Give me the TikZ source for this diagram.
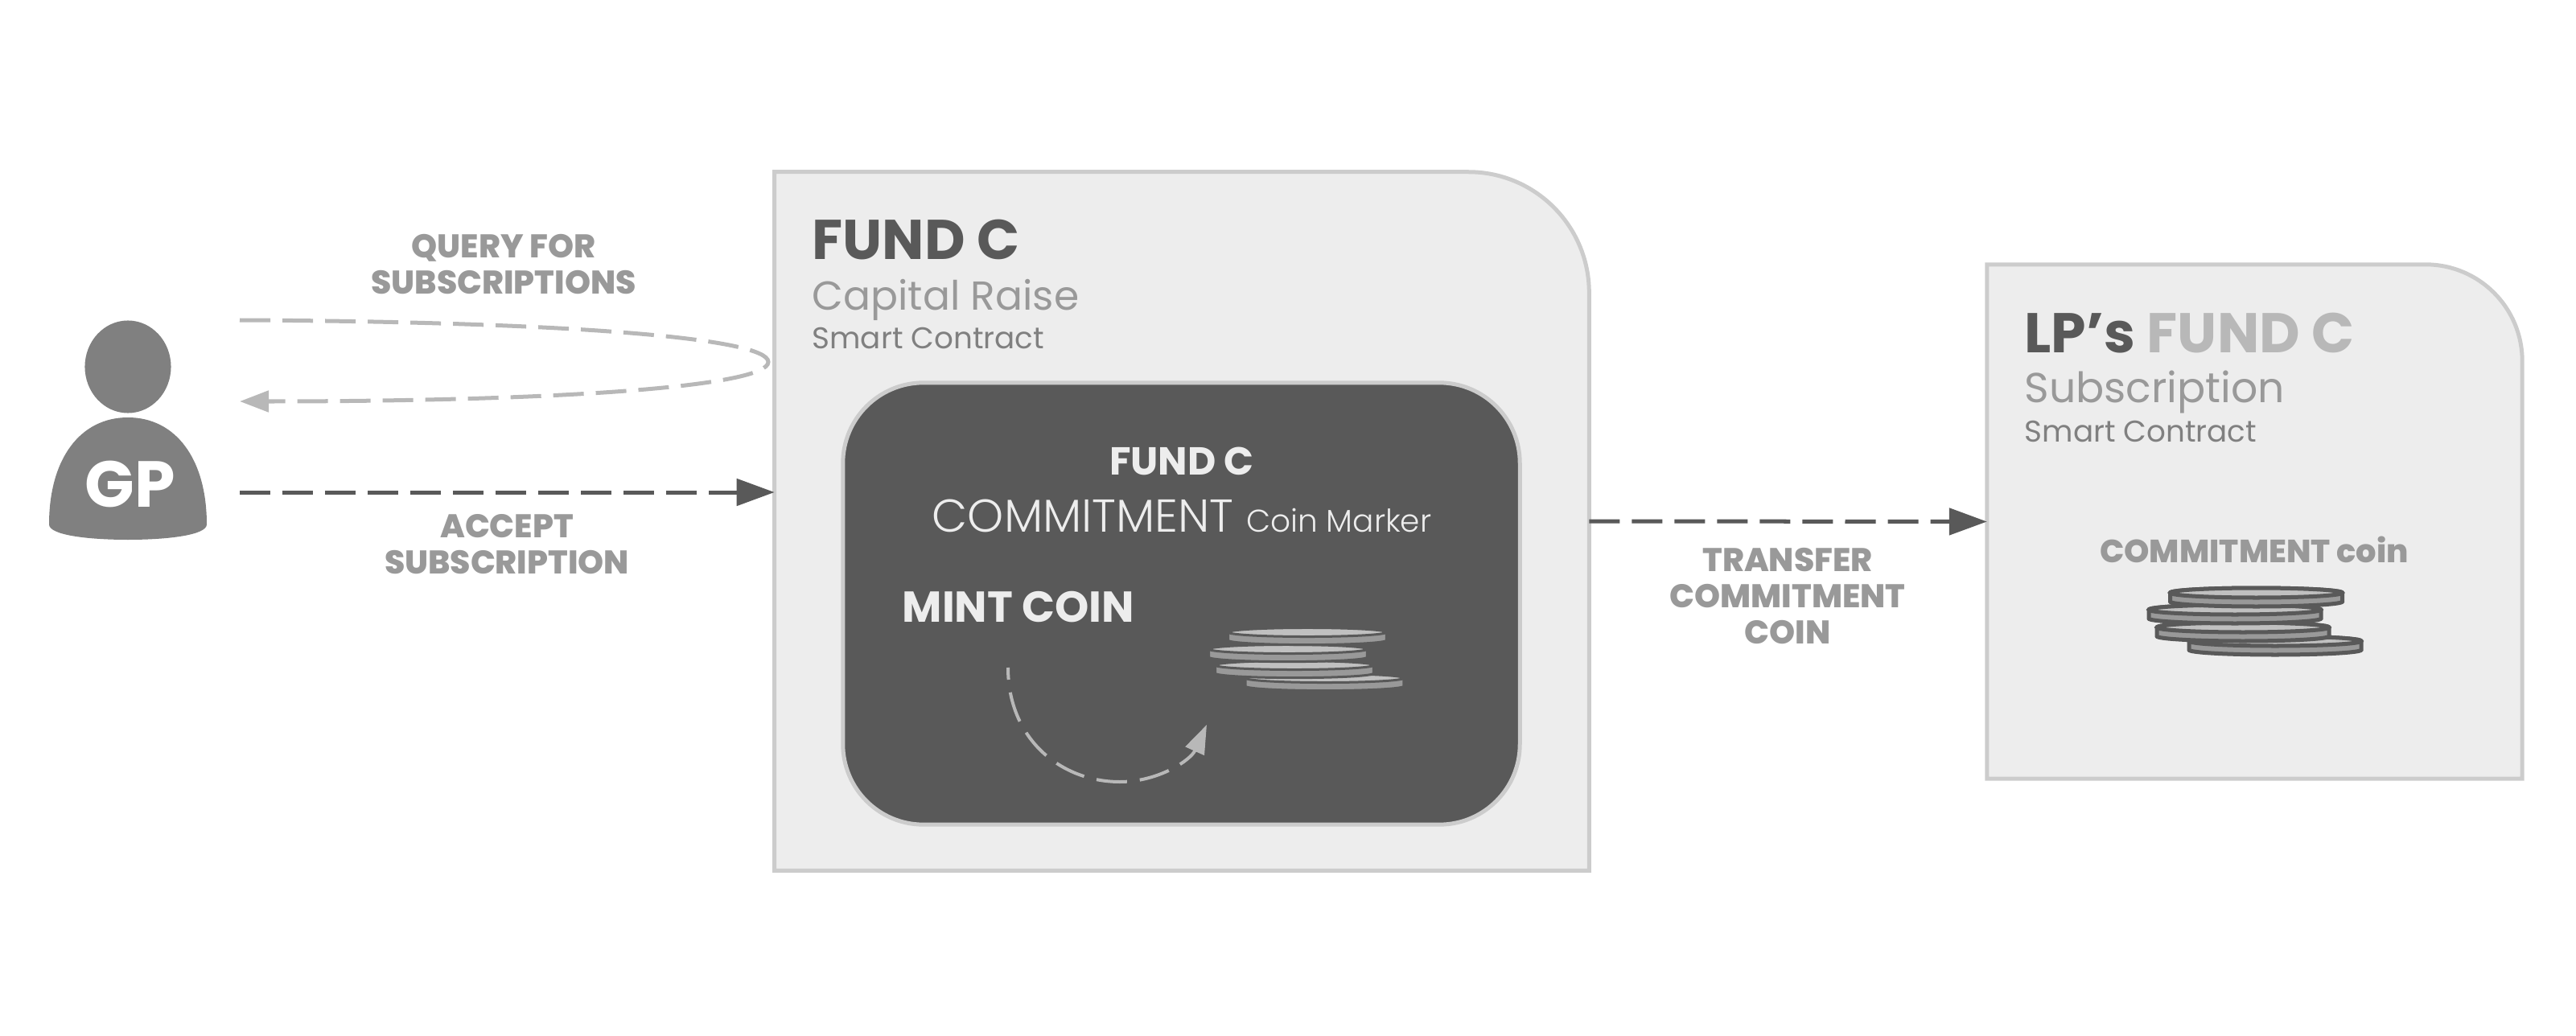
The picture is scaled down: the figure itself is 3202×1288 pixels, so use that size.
\documentclass[tikz,border=0pt]{standalone}
\usepackage{fontspec}
\setmainfont{Poppins}
\newfontfamily\lightfont{Poppins Light}
\newfontfamily\heavyfont{Poppins ExtraBold}
\usetikzlibrary{arrows.meta, shapes.geometric}
\definecolor{fundgrey}{HTML}{EDEDED}
\definecolor{fundedge}{HTML}{CCCCCC}
\definecolor{fundcharcoal}{HTML}{595959}
\definecolor{fundlabel}{HTML}{999999}
\definecolor{fundsoft}{HTML}{B8B8B8}
\definecolor{fundperson}{HTML}{808080}
\definecolor{coinface}{HTML}{C0C0C0}
\tikzset{
  coinpic/.pic={
    \filldraw[draw=fundcharcoal, fill=fundlabel] (-107,0) -- (-107,11) arc[start angle=180, end angle=360, x radius=107, y radius=-6] -- (107,0) arc[start angle=0, end angle=180, x radius=107, y radius=-6] -- cycle;
    \filldraw[draw=fundcharcoal, fill=coinface] (0,0) ellipse[x radius=107, y radius=6];
  }
}
\begin{document}
\begin{tikzpicture}[
  x=.01cm, y=-.01cm,
  anchorbox/.style={minimum width=#1, inner sep=0pt, outer sep=0pt},
  shell/.style={fill=fundgrey, draw=fundedge, line width=.05cm},
  mintbox/.style={draw=fundedge, fill=fundcharcoal, line width=.05cm, rounded corners=1cm, minimum width=8.41cm, minimum height=5.49cm, inner sep=0pt},
  title/.style={anchor=base west, inner sep=0pt, text=fundcharcoal, font=\fontsize{19.8}{22}\selectfont\bfseries},
  subtitle/.style={anchor=base west, inner sep=0pt, text=fundlabel, font=\fontsize{14.3}{16}\selectfont},
  kind/.style={anchor=base west, inner sep=0pt, text=fundperson, font=\fontsize{10.6}{12}\selectfont},
  flowlabel/.style={align=center, inner sep=0pt, text=fundlabel, font=\fontsize{11.6}{12.8}\selectfont\heavyfont},
  coinouter/.style={line width=.05cm},
  coininner/.style={scale=.92, line width=.03cm},
  dark/.style={-{Triangle[length=.47cm, width=.33cm]}, dash pattern=on .38cm off .15cm, line width=.05cm, fundcharcoal},
  soft/.style={-{Triangle[length=.36cm, width=.26cm]}, dash pattern=on .38cm off .15cm, line width=.05cm, fundsoft}
]
\useasboundingbox (0,0) rectangle (3202,1288);
\node[anchorbox=10.12cm, minimum height=8.68cm] (fund) at (1469,648) {};
\node[anchorbox=6.65cm, minimum height=6.39cm] (lp) at (2802.5,648.5) {};
\draw[shell] (fund.south west) -- (fund.north west) -- ([xshift=-1.5cm]fund.north east) arc[start angle=90, end angle=0, radius=1.5cm] -- (fund.south east) -- cycle;
\draw[shell] (lp.south west) -- (lp.north west) -- ([xshift=-1.2cm]lp.north east) arc[start angle=90, end angle=0, radius=1.2cm] -- (lp.south east) -- cycle;

\node[title] (fundtitle) at (1009,323) {FUND C};
\node[subtitle] (fundsub) at (1009,385) {Capital Raise};
\node[kind] (fundkind) at (1009,433) {Smart Contract};
\node[title] (lptitle) at (2516,439) {LP’s \textcolor{fundsoft}{FUND C}};
\node[subtitle, font=\fontsize{14.8}{16}\selectfont] (lpsub) at (2516,500) {Subscription};
\node[kind] (lpkind) at (2516,549) {Smart Contract};

\node[mintbox] (mint) at (1468.5,750.5) {};
\node[anchor=base, inner sep=0pt, text=fundgrey, font=\fontsize{13.8}{15}\selectfont\bfseries] (minttitle) at (1469,590) {FUND C};
\node[anchor=base, inner sep=0pt, text=fundgrey, font=\fontsize{16.3}{18}\selectfont\lightfont] (mintsub) at (1469,661) {COMMITMENT {\fontsize{11.1}{12}\selectfont Coin Marker}};
\node[anchor=base west, inner sep=0pt, text=fundgrey, font=\fontsize{15.3}{17}\selectfont\bfseries] (mintcoin) at (1121,773) {MINT COIN};

\pic[coininner] at (1646.5,843) {coinpic};
\pic[coininner] at (1609,827) {coinpic};
\pic[coininner] at (1601,807) {coinpic};
\pic[coininner] at (1625,786) {coinpic};
\coordinate (mintfrom) at (1253,830);
\coordinate (minttip) at (1500,901);
\draw[-{Triangle[length=.36cm, width=.25cm]}, dash pattern=on .38cm off .16cm, dash phase=.23cm, line width=.04cm, fundsoft] (mintfrom) .. controls (1253,920) and (1320,972) .. (1392,972) .. controls (1440,972) and (1480,945) .. (minttip);

\node[anchor=base, inner sep=0pt, text=fundlabel, font=\fontsize{11.35}{13}\selectfont\heavyfont] (coinlabel) at (2802,699) {COMMITMENT coin};
\pic[coinouter] at (2828,797) {coinpic};
\pic[coinouter] at (2788,780) {coinpic};
\pic[coinouter] at (2778,758) {coinpic};
\pic[coinouter] at (2804.5,737) {coinpic};

\node[ellipse, fill=fundperson, inner sep=0pt, minimum width=1.07cm, minimum height=1.15cm] (gphead) at (159,456) {};
\fill[fundperson] (61,652) .. controls (61,570) and (100,519) .. (159,519) .. controls (218,519) and (257,570) .. (257,652) .. controls (257,665) and (210,671) .. (159,671) .. controls (108,671) and (61,665) .. (61,652) -- cycle;
\node[inner sep=0pt, text=white, font=\fontsize{23}{25}\selectfont\bfseries] (gp) at (162,602) {GP};

\coordinate (queryfrom) at (298,398);
\coordinate (queryto) at (298,499);
\coordinate (acceptfrom) at (298,612);
\draw[soft] (queryfrom) .. controls (700,400) and (955,420) .. (955,450) .. controls (955,480) and (700,499) .. (queryto);
\draw[dark] (acceptfrom) -- (fund.west |- acceptfrom);
\draw[dark] (fund.east) -- (lp.west);

\node[flowlabel] (querylabel) at (626,329) {QUERY FOR\\SUBSCRIPTIONS};
\node[flowlabel] (acceptlabel) at (630,677) {ACCEPT\\SUBSCRIPTION};
\node[flowlabel] (transferlabel) at (2222,741) {TRANSFER\\COMMITMENT\\COIN};
\end{tikzpicture}
\end{document}
